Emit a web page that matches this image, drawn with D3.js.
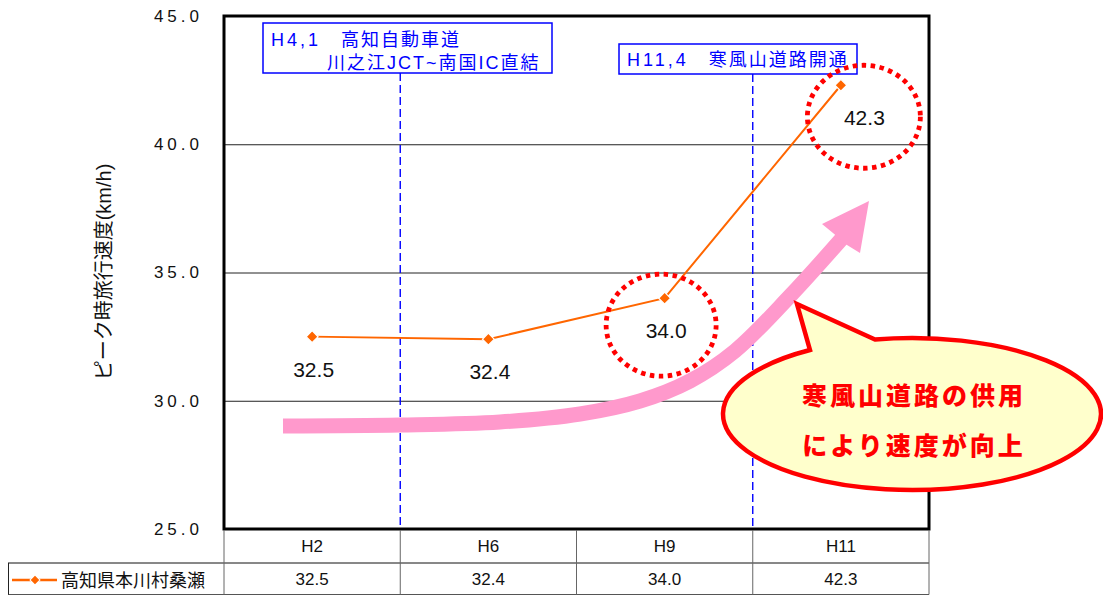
<!DOCTYPE html>
<html>
<head>
<meta charset="utf-8">
<script src="https://cdn.jsdelivr.net/npm/d3@7"></script>
<style>
  html, body { margin: 0; padding: 0; background: #fff; }
  svg { display: block; }
  text { font-family: "Liberation Sans", Arial, "Noto Sans CJK JP", sans-serif; }
</style>
</head>
<body>
<svg id="chart" width="1103" height="595"></svg>
<script>
// ---------------- data ----------------
const categories = ["H2", "H6", "H9", "H11"];
const seriesName = "高知県本川村桑瀬";
const values = [32.5, 32.4, 34.0, 42.3];
const yTicks = [25, 30, 35, 40, 45];
const gridValues = [30, 35, 40];
const yTitle = "ピーク時旅行速度(km/h)";
const note1Prefix = "H4,1";
const note1Line1 = "　高知自動車道";
const note1Line2 = "川之江JCT~南国IC直結";
const note2Prefix = "H11,4";
const note2Text = "　寒風山道路開通";
const bubbleLines = ["寒風山道路の供用", "により速度が向上"];
const highlighted = ["H9", "H11"];

// ---------------- layout ----------------
const svg = d3.select("#chart");
const plot = { left: 224, right: 929, top: 16, bottom: 529 };
const tableRow1 = 563, tableBottom = 594.5, legendLeft = 8;
const ORANGE = "#ff6600", BLUE = "#0000ff", RED = "#ff0000", PINK = "#ff99cc";

const x = d3.scaleBand().domain(categories).range([plot.left, plot.right]).padding(0);
const y = d3.scaleLinear().domain([25, 45]).range([plot.bottom, plot.top]);
const cx = c => x(c) + x.bandwidth() / 2;

// gridlines
svg.append("g")
  .attr("transform", `translate(${plot.left},0)`)
  .call(d3.axisLeft(y).tickValues(gridValues).tickSize(-(plot.right - plot.left)).tickFormat(""))
  .call(g => g.select(".domain").remove())
  .call(g => g.selectAll("line").attr("stroke", "#222").attr("stroke-width", 1));

// y tick labels
svg.append("g")
  .attr("transform", `translate(${plot.left},0)`)
  .call(d3.axisLeft(y).tickValues(yTicks).tickSize(0).tickPadding(21).tickFormat(d3.format(".1f")))
  .call(g => g.select(".domain").remove())
  .call(g => g.selectAll("text")
    .attr("font-family", '"Liberation Sans", Arial, sans-serif')
    .attr("font-size", 17).attr("letter-spacing", "4px").attr("fill", "#111"));

// y title
svg.append("text")
  .attr("transform", `translate(104,272) rotate(-90)`)
  .attr("text-anchor", "middle").attr("dominant-baseline", "central")
  .attr("font-size", 20).attr("fill", "#111")
  .text(yTitle);

// ---------------- annotation boxes & dashed lines ----------------
const boundary1 = x(categories[1]);   // between H2 and H6
const boundary2 = x(categories[3]);   // between H9 and H11
svg.append("line").attr("x1", boundary1).attr("x2", boundary1).attr("y1", 73).attr("y2", plot.bottom)
  .attr("stroke", BLUE).attr("stroke-width", 1.4).attr("stroke-dasharray", "8,4");
svg.append("line").attr("x1", boundary2).attr("x2", boundary2).attr("y1", 74).attr("y2", plot.bottom)
  .attr("stroke", BLUE).attr("stroke-width", 1.4).attr("stroke-dasharray", "8,4");

svg.append("rect").attr("x", 263).attr("y", 23).attr("width", 289).attr("height", 50)
  .attr("fill", "#fff").attr("stroke", BLUE).attr("stroke-width", 1.5);
const t1 = svg.append("text").attr("x", 271).attr("y", 46).attr("font-size", 18).attr("fill", BLUE);
t1.append("tspan").attr("letter-spacing", "3px").text(note1Prefix);
t1.append("tspan").attr("letter-spacing", "2px").text(note1Line1);
svg.append("text").attr("x", 327).attr("y", 69).attr("font-size", 18).attr("fill", BLUE)
  .attr("letter-spacing", "2px").text(note1Line2);

svg.append("rect").attr("x", 619).attr("y", 44).attr("width", 238).attr("height", 30)
  .attr("fill", "#fff").attr("stroke", BLUE).attr("stroke-width", 1.5);
const t2 = svg.append("text").attr("x", 627).attr("y", 66).attr("font-size", 18).attr("fill", BLUE);
t2.append("tspan").attr("letter-spacing", "3px").text(note2Prefix);
t2.append("tspan").attr("letter-spacing", "2px").text(note2Text);

// ---------------- series ----------------
const pts = categories.map((c, i) => ({ c, v: values[i] }));
svg.append("path").datum(pts)
  .attr("d", d3.line().x(d => cx(d.c)).y(d => y(d.v)))
  .attr("fill", "none").attr("stroke", ORANGE).attr("stroke-width", 2);
const diamond = d3.symbol(d3.symbolSquare, 70);
svg.selectAll(".mk").data(pts).join("path")
  .attr("d", diamond)
  .attr("transform", d => `translate(${cx(d.c)},${y(d.v)}) rotate(45)`)
  .attr("fill", ORANGE).attr("stroke", "#fff").attr("stroke-width", 1.2);

// data labels
svg.selectAll(".lbl").data(pts).join("text")
  .attr("x", (d, i) => cx(d.c) + (i === pts.length - 1 ? 23.5 : 1.5))
  .attr("y", d => y(d.v) + 40)
  .attr("text-anchor", "middle").attr("font-size", 21).attr("fill", "#111")
  .attr("font-family", '"Liberation Sans", Arial, sans-serif')
  .text(d => d3.format(".1f")(d.v));

// red dotted circles around highlighted points
const circ = [
  { c: highlighted[0], dx: -3.5, dy: 27, rx: 55, ry: 51 },
  { c: highlighted[1], dx: 23, dy: 31.5, rx: 56.5, ry: 51.5 }
];
svg.selectAll(".circ").data(circ).join("ellipse")
  .attr("cx", d => cx(d.c) + d.dx)
  .attr("cy", d => y(values[categories.indexOf(d.c)]) + d.dy)
  .attr("rx", d => d.rx).attr("ry", d => d.ry)
  .attr("fill", "none").attr("stroke", RED).attr("stroke-width", 4.8)
  .attr("stroke-dasharray", "4.5,4.5");

// ---------------- plot frame ----------------
svg.append("rect")
  .attr("x", plot.left).attr("y", plot.top)
  .attr("width", plot.right - plot.left).attr("height", plot.bottom - plot.top)
  .attr("fill", "none").attr("stroke", "#000").attr("stroke-width", 3);

// ---------------- pink arrow ----------------
const arrowPts = [[283, 426], [400, 425], [500, 422], [580, 414], [640, 401], [690, 381], [735, 351], [790, 296], [845, 235]];
svg.append("path")
  .attr("d", d3.line().curve(d3.curveCatmullRom.alpha(0.5))(arrowPts))
  .attr("fill", "none").attr("stroke", PINK).attr("stroke-width", 15);
svg.append("path")
  .attr("d", "M869,201 L822,224 L833,233 L847,245 L860,253 Z")
  .attr("fill", PINK);

// ---------------- callout bubble ----------------
const E = { cx: 912, cy: 414, rx: 189, ry: 76 };
const onEllipseTop = px => [px, E.cy - E.ry * Math.sqrt(1 - Math.pow((px - E.cx) / E.rx, 2))];
const bL = onEllipseTop(810), bR = onEllipseTop(875);
svg.append("path")
  .attr("d", `M${bL[0]},${bL[1]} L797,304 L${bR[0]},${bR[1]} A${E.rx},${E.ry} 0 1 1 ${bL[0]},${bL[1]} Z`)
  .attr("fill", "#ffffcc").attr("stroke", RED).attr("stroke-width", 4.5).attr("stroke-linejoin", "miter");
svg.selectAll(".bt").data(bubbleLines).join("text")
  .attr("x", 914).attr("y", (d, i) => 396 + i * 50)
  .attr("text-anchor", "middle").attr("dominant-baseline", "central")
  .attr("font-family", '"Noto Sans CJK JP", sans-serif')
  .attr("font-size", 25).attr("font-weight", 900).attr("letter-spacing", "3px")
  .attr("fill", RED).text(d => d);

// ---------------- data table ----------------
const tbl = svg.append("g");
tbl.append("line").attr("x1", legendLeft).attr("x2", plot.right).attr("y1", tableRow1).attr("y2", tableRow1)
  .attr("stroke", "#111").attr("stroke-width", 1);
tbl.append("line").attr("x1", legendLeft).attr("x2", plot.right).attr("y1", tableBottom).attr("y2", tableBottom)
  .attr("stroke", "#555").attr("stroke-width", 1);
const vx = categories.map(c => x(c)).concat([plot.right]);
tbl.selectAll(".vl").data(vx).join("line")
  .attr("x1", d => d).attr("x2", d => d).attr("y1", plot.bottom + 1).attr("y2", tableBottom)
  .attr("stroke", "#666").attr("stroke-width", 1);
tbl.append("line").attr("x1", legendLeft + 0.5).attr("x2", legendLeft + 0.5).attr("y1", tableRow1).attr("y2", tableBottom)
  .attr("stroke", "#222").attr("stroke-width", 1);
tbl.selectAll(".cat").data(categories).join("text")
  .attr("x", c => cx(c)).attr("y", 552)
  .attr("text-anchor", "middle").attr("font-size", 17).attr("fill", "#111").text(c => c);
tbl.selectAll(".val").data(pts).join("text")
  .attr("x", d => cx(d.c)).attr("y", 585)
  .attr("text-anchor", "middle").attr("font-size", 17).attr("fill", "#111")
  .text(d => d3.format(".1f")(d.v));
// legend
tbl.append("line").attr("x1", 12).attr("x2", 57).attr("y1", 580).attr("y2", 580)
  .attr("stroke", ORANGE).attr("stroke-width", 2.5);
tbl.append("path").attr("d", d3.symbol(d3.symbolSquare, 50))
  .attr("transform", "translate(35,580) rotate(45)").attr("fill", ORANGE)
  .attr("stroke", "#fff").attr("stroke-width", 1);
tbl.append("text").attr("x", 61).attr("y", 587).attr("font-size", 18).attr("fill", "#111")
  .attr("font-family", '"Noto Sans CJK JP", sans-serif').text(seriesName);
</script>
</body>
</html>
